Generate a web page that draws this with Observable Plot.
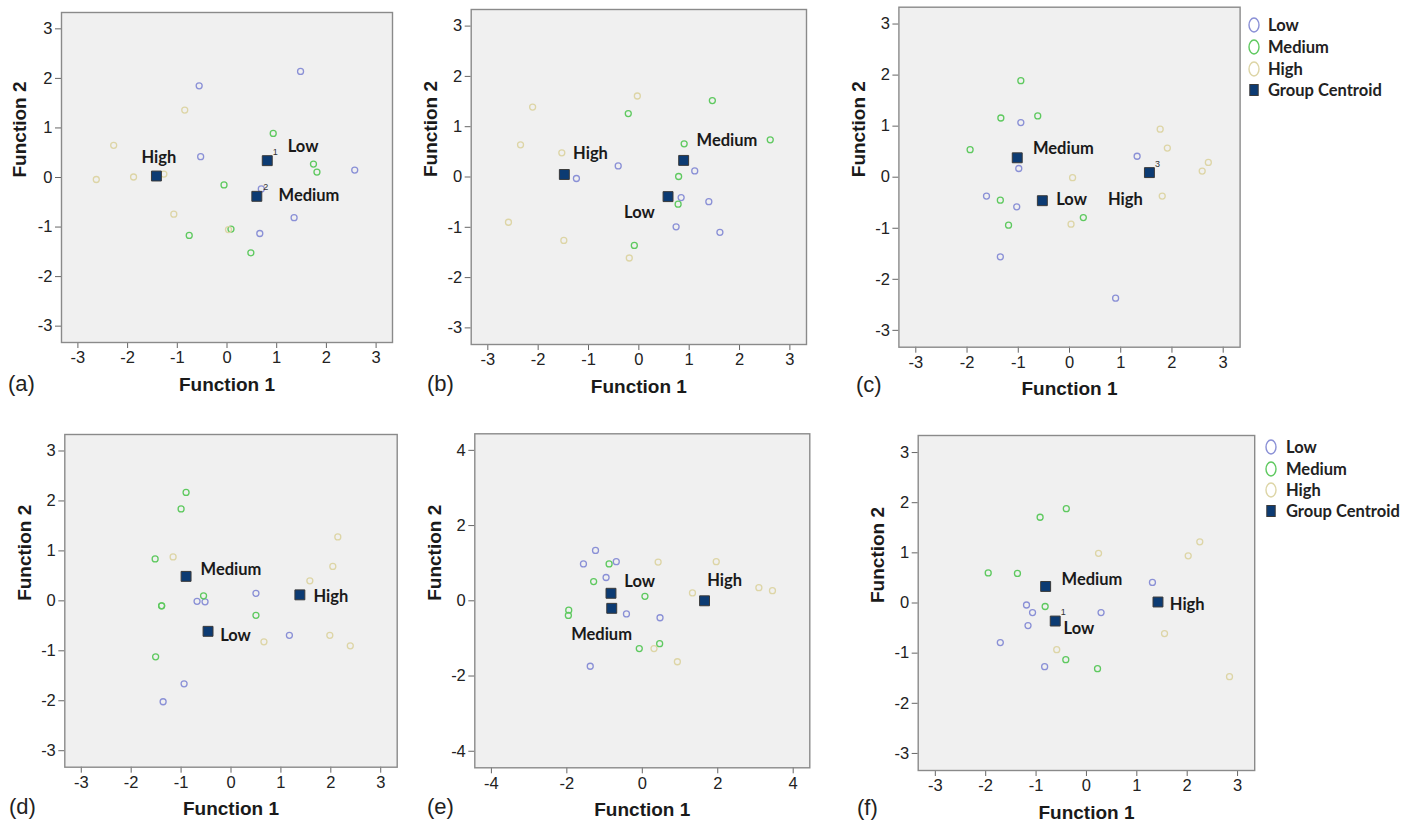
<!DOCTYPE html>
<html>
<head>
<meta charset="utf-8">
<script src="https://cdn.jsdelivr.net/npm/d3@7"></script>
<script src="https://cdn.jsdelivr.net/npm/@observablehq/plot@0.6"></script>
<style>
  html, body { margin: 0; padding: 0; background: #fff; }
  #root { position: relative; width: 1409px; height: 822px; overflow: hidden; }
  .panel { position: absolute; }
  .letter { position: absolute; font-family: "Liberation Sans", Arial, sans-serif; font-size: 22px; color: #222; line-height: 1; transform: translateY(-50%); }
  .legend { position: absolute; font-family: Lato, "Open Sans", sans-serif; font-weight: 700; font-size: 16.5px; color: #222; }
  .legend .row { position: absolute; white-space: nowrap; display: flex; align-items: center; transform: translateY(-50%); }
  .legend svg { overflow: visible; }
</style>
</head>
<body>
<div id="root"></div>
<script>
// ---- shared labels ----
const groupNames = ["Low", "Medium", "High"];
const groupColors = ["#8a90d6", "#5ec95f", "#ddd5a6"];
const legendLabels = ["Low", "Medium", "High", "Group Centroid"];
const centroidColor = "#0c3b73";
const ticks3 = [-3, -2, -1, 0, 1, 2, 3];
const ticks4 = [-4, -2, 0, 2, 4];
const panelLetters = ["(a)", "(b)", "(c)", "(d)", "(e)", "(f)"];

// ---- panel (a) ----
const a_low = [[-0.56,1.85],[1.48,2.14],[-0.53,0.42],[2.57,0.15],[0.69,-0.23],[1.35,-0.81],[0.66,-1.13]];
const a_medium = [[0.93,0.89],[1.74,0.27],[1.81,0.11],[-0.06,-0.15],[0.08,-1.04],[-0.76,-1.17],[0.48,-1.52]];
const a_high = [[-0.85,1.36],[-2.28,0.65],[-2.63,-0.04],[-1.88,0.01],[-1.27,0.07],[-1.07,-0.74],[0.03,-1.05]];
const a_centroid = [[0.81,0.34],[0.60,-0.38],[-1.42,0.03]];
const a_label = [[1.53,0.63],[1.65,-0.36],[-1.37,0.40]];
const a_tag = [["1",0.97,0.51],["2",0.78,-0.20]];

// ---- panel (b) ----
const b_low = [[-0.41,0.22],[-1.24,-0.03],[1.11,0.12],[0.84,-0.41],[1.39,-0.49],[0.74,-0.99],[1.61,-1.10]];
const b_medium = [[1.46,1.52],[-0.21,1.26],[0.90,0.66],[2.61,0.74],[0.79,0.01],[0.78,-0.54],[-0.09,-1.36]];
const b_high = [[-0.03,1.61],[-2.11,1.39],[-2.35,0.64],[-1.53,0.48],[-2.59,-0.90],[-1.49,-1.26],[-0.19,-1.61]];
const b_centroid = [[0.58,-0.39],[0.89,0.33],[-1.48,0.05]];
const b_label = [[0.01,-0.71],[1.75,0.72],[-0.96,0.46]];
const b_tag = [];

// ---- panel (c) ----
const c_low = [[-0.95,1.07],[-0.99,0.17],[-1.62,-0.37],[-1.03,-0.58],[-1.35,-1.56],[1.32,0.41],[0.90,-2.37]];
const c_medium = [[-0.95,1.89],[-1.34,1.16],[-0.62,1.20],[-1.94,0.54],[-1.35,-0.45],[-1.19,-0.94],[0.27,-0.79]];
const c_high = [[1.77,0.94],[1.91,0.57],[2.71,0.29],[2.59,0.12],[0.06,-0.01],[1.81,-0.37],[0.03,-0.92]];
const c_centroid = [[-0.53,-0.46],[-1.02,0.38],[1.56,0.09]];
const c_label = [[0.04,-0.45],[-0.12,0.55],[1.09,-0.45]];
const c_tag = [["3",1.72,0.26]];

// ---- panel (d) ----
const d_low = [[-0.68,-0.01],[-0.52,-0.02],[0.50,0.15],[1.17,-0.69],[-0.94,-1.66],[-1.36,-2.02]];
const d_medium = [[-0.90,2.17],[-1.00,1.84],[-1.52,0.84],[-0.55,0.10],[-1.39,-0.10],[-1.39,-0.10],[0.50,-0.29],[-1.51,-1.12]];
const d_high = [[-1.16,0.88],[2.14,1.28],[2.04,0.69],[1.58,0.40],[1.98,-0.69],[2.39,-0.90],[0.66,-0.82]];
const d_centroid = [[-0.46,-0.61],[-0.90,0.49],[1.38,0.12]];
const d_label = [[0.09,-0.69],[0.00,0.63],[2.00,0.09]];
const d_tag = [];

// ---- panel (e) ----
const e_low = [[-1.24,1.34],[-1.56,0.98],[-0.69,1.04],[-0.96,0.62],[-0.42,-0.35],[0.47,-0.45],[-1.38,-1.74]];
const e_medium = [[-0.88,0.98],[-1.29,0.51],[0.07,0.12],[-1.95,-0.25],[-1.96,-0.39],[0.46,-1.14],[-0.08,-1.27]];
const e_high = [[0.42,1.03],[1.96,1.04],[1.33,0.21],[3.09,0.35],[3.45,0.27],[0.31,-1.27],[0.93,-1.62]];
const e_centroid = [[-0.83,0.20],[-0.81,-0.20],[1.65,0.00]];
const e_label = [[-0.07,0.52],[-1.08,-0.89],[2.18,0.54]];
const e_tag = [];

// ---- panel (f) ----
const f_low = [[-1.19,-0.04],[-1.07,-0.19],[-1.16,-0.45],[-1.71,-0.79],[-0.83,-1.27],[0.29,-0.19],[1.31,0.41]];
const f_medium = [[-0.92,1.71],[-0.40,1.88],[-1.95,0.60],[-1.37,0.59],[-0.82,-0.07],[-0.41,-1.13],[0.22,-1.31]];
const f_high = [[0.24,0.99],[2.25,1.22],[2.02,0.94],[1.55,-0.61],[-0.59,-0.93],[2.84,-1.47]];
const f_centroid = [[-0.62,-0.36],[-0.81,0.33],[1.42,0.02]];
const f_label = [[-0.15,-0.52],[0.11,0.47],[2.00,-0.03]];
const f_tag = [["1",-0.46,-0.19]];

// ---- layout (positions / sizes only) ----
const layouts = [
  {left: 0,   top: 0,   width: 400, height: 400, ml: 61,   mr: 8,    mt: 12,   mb: 58,   lim: 3.33, ticks: ticks3, letter: [8, 384]},
  {left: 420, top: 0,   width: 400, height: 400, ml: 50.7, mr: 14,   mt: 9,    mb: 56,   lim: 3.33, ticks: ticks3, letter: [427, 384]},
  {left: 840, top: 0,   width: 410, height: 400, ml: 58.4, mr: 10.4, mt: 6.7,  mb: 53.3, lim: 3.33, ticks: ticks3, letter: [856, 385]},
  {left: 0,   top: 420, width: 410, height: 402, ml: 64.3, mr: 13.3, mt: 14,   mb: 55.3, lim: 3.33, ticks: ticks3, letter: [9, 807]},
  {left: 420, top: 420, width: 400, height: 402, ml: 54.3, mr: 10.7, mt: 13.3, mb: 54.7, lim: 4.44, ticks: ticks4, letter: [427, 807]},
  {left: 840, top: 420, width: 420, height: 402, ml: 77.7, mr: 5.8,  mt: 15,   mb: 52,   lim: 3.34, ticks: ticks3, letter: [857, 808]}
];
const panelData = [
  [a_low, a_medium, a_high, a_centroid, a_label, a_tag],
  [b_low, b_medium, b_high, b_centroid, b_label, b_tag],
  [c_low, c_medium, c_high, c_centroid, c_label, c_tag],
  [d_low, d_medium, d_high, d_centroid, d_label, d_tag],
  [e_low, e_medium, e_high, e_centroid, e_label, e_tag],
  [f_low, f_medium, f_high, f_centroid, f_label, f_tag]
];

const root = document.getElementById("root");
const X = d => d[0], Y = d => d[1];

layouts.forEach((L, i) => {
  const [low, medium, high, cent, lab, tag] = panelData[i];
  const groups = [low, medium, high];
  const chart = Plot.plot({
    width: L.width, height: L.height,
    marginLeft: L.ml, marginRight: L.mr, marginTop: L.mt, marginBottom: L.mb,
    x: {domain: [-L.lim, L.lim]},
    y: {domain: [-L.lim, L.lim]},
    style: {fontFamily: "'Liberation Sans', Arial, sans-serif", fontSize: "16.5px", color: "#222", background: "transparent", overflow: "visible"},
    marks: [
      Plot.frame({fill: "#f0f0f0"}),
      Plot.axisX({ticks: L.ticks, tickSize: 6, tickPadding: 3, tickFormat: d => String(d), label: null, stroke: "#666", fill: "#222"}),
      Plot.axisY({ticks: L.ticks, tickSize: 6, tickPadding: 3, tickFormat: d => String(d), label: null, stroke: "#666", fill: "#222"}),
      ...groups.map((g, k) => Plot.dot(g, {x: X, y: Y, r: 3, stroke: groupColors[k], strokeWidth: 1.3})),
      Plot.dot(cent, {x: X, y: Y, symbol: "square", r: 5.6, fill: centroidColor, stroke: "#3a3a3a", strokeWidth: 1}),
      Plot.text(tag, {x: d => d[1], y: d => d[2], text: d => d[0], fontSize: 9, fill: "#333", fontFamily: "'Liberation Sans', Arial, sans-serif"}),
      Plot.text(lab, {x: X, y: Y, text: (d, j) => groupNames[j], fontFamily: "Lato, 'Open Sans', sans-serif", fontWeight: 700, fontSize: 16.5, fill: "#1a1a1a", stroke: "#f0f0f0", strokeWidth: 3}),
      Plot.frame({stroke: "#8a8a8a", strokeWidth: 1.4}),
      Plot.text(["Function 1"], {frameAnchor: "bottom", dy: 42, lineAnchor: "middle", text: d => d, fontWeight: 700, fontSize: 19, fill: "#1a1a1a"}),
      Plot.text(["Function 2"], {frameAnchor: "left", dx: i === 0 ? -42 : -40, rotate: -90, lineAnchor: "middle", text: d => d, fontWeight: 700, fontSize: 19, fill: "#1a1a1a"})
    ]
  });
  const div = document.createElement("div");
  div.className = "panel";
  div.style.left = L.left + "px";
  div.style.top = L.top + "px";
  div.appendChild(chart);
  root.appendChild(div);

  const letter = document.createElement("div");
  letter.className = "letter";
  letter.style.left = L.letter[0] + "px";
  letter.style.top = L.letter[1] + "px";
  letter.textContent = panelLetters[i];
  root.appendChild(letter);
});

// ---- legends (for panels c and f) ----
const legendPlaces = [
  {x: 1253.5, textX: 1268, rows: [25, 47, 69, 90]},
  {x: 1270.5, textX: 1286, rows: [447, 468.5, 490, 511]}
];
legendPlaces.forEach(P => {
  const box = document.createElement("div");
  box.className = "legend";
  box.style.left = "0px"; box.style.top = "0px";
  legendLabels.forEach((name, k) => {
    const row = document.createElement("div");
    row.className = "row";
    row.style.left = (P.x - 7) + "px";
    row.style.top = P.rows[k] + "px";
    const sym = k < 3
      ? `<svg width="14" height="16"><ellipse cx="7" cy="8" rx="5" ry="7" fill="none" stroke="${groupColors[k]}" stroke-width="1.4"/></svg>`
      : `<svg width="14" height="16"><rect x="2.8" y="2.5" width="8.4" height="11" fill="${centroidColor}" stroke="#3a3a3a" stroke-width="1"/></svg>`;
    row.innerHTML = sym + `<span style="margin-left:${P.textX - P.x - 7}px">${name}</span>`;
    box.appendChild(row);
  });
  root.appendChild(box);
});
</script>
</body>
</html>
